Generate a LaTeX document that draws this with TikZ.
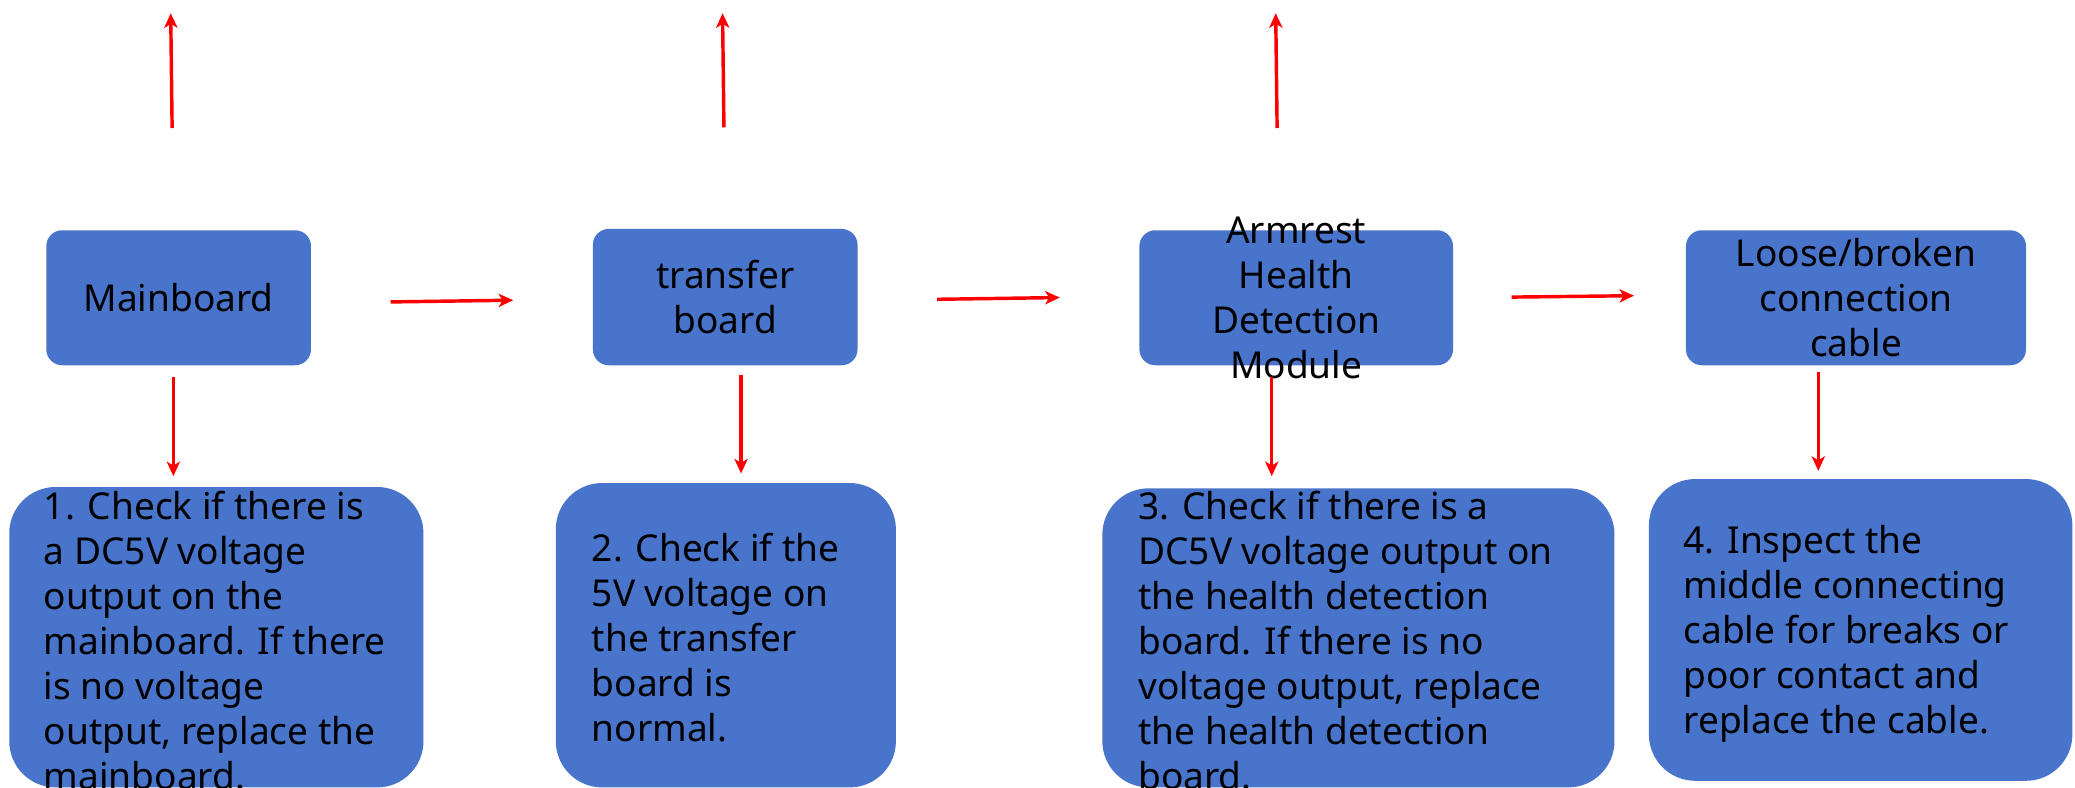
\documentclass[tikz,border=0pt]{standalone}
\usepackage{fontspec}
\setmainfont{Noto Sans}
\usetikzlibrary{arrows.meta}
\definecolor{cardblue}{RGB}{72,116,203}
\begin{document}
\begin{tikzpicture}[x=1pt,y=1pt,
  card/.style={fill=cardblue, draw=none, rounded corners=12pt, inner sep=0pt},
  note/.style={fill=cardblue, draw=none, rounded corners=35pt, inner sep=0pt},
  boxtext/.style={font=\fontsize{28}{34}\selectfont, text=black, inner sep=0pt},
  arr/.style={draw=red, line width=2.6pt, -{Stealth[length=11pt,width=10pt,inset=3pt]}}
]
\useasboundingbox (0,0) rectangle (1568,-595);
\fill[white] (0,0) rectangle (1568,-595);

% component boxes
\node[card, minimum width=200pt, minimum height=102pt] (m) at (135,-225) {};
\node[card, minimum width=200pt, minimum height=103pt] (t) at (548,-224.5) {};
\node[card, minimum width=237pt, minimum height=102pt] (a) at (979.5,-225) {};
\node[card, minimum width=257pt, minimum height=102pt] (l) at (1402.5,-225) {};

\node[boxtext, align=center] (mt) at (m) {Mainboard};
\node[boxtext, align=center] (tt) at (t) {transfer\\board};
\node[boxtext, align=center] (at) at (a) {Armrest\\Health\\Detection\\Module};
\node[boxtext, align=center] (lt) at (l) {Loose/broken\\connection\\cable};

% check steps
\node[note, minimum width=313pt, minimum height=227pt] (b1) at (163.5,-481.5) {};
\node[note, minimum width=257pt, minimum height=230pt] (b2) at (548.5,-480) {};
\node[note, minimum width=387pt, minimum height=226pt] (b3) at (1026.5,-482) {};
\node[note, minimum width=320pt, minimum height=228pt] (b4) at (1406,-476) {};

\node[boxtext, align=left, anchor=west] (s1) at (33,-484) {1. Check if there is\\a DC5V voltage\\output on the\\mainboard. If there\\is no voltage\\output, replace the\\mainboard.};
\node[boxtext, align=left, anchor=west] (s2) at (447,-482) {2. Check if the\\5V voltage on\\the transfer\\board is\\normal.};
\node[boxtext, align=left, anchor=west] (s3) at (860,-484) {3. Check if there is a\\DC5V voltage output on\\the health detection\\board. If there is no\\voltage output, replace\\the health detection\\board.};
\node[boxtext, align=left, anchor=west] (s4) at (1272,-479) {4. Inspect the\\middle connecting\\cable for breaks or\\poor contact and\\replace the cable.};

% free ends of the upward arrows
\coordinate (u1) at (129,-10);
\coordinate (u2) at (546,-10);
\coordinate (u3) at (964,-10);

% upward arrows
\draw[arr, shorten <=77pt] ([xshift=-4pt]m.north) -- (u1);
\draw[arr, shorten <=76.5pt] (t.north) -- (u2);
\draw[arr, shorten <=77pt] ([xshift=-13.5pt]a.north) -- (u3);

% arrows along the chain
\draw[arr, shorten <=60pt, shorten >=60pt] ([yshift=-4pt]m.east) -- ([yshift=-1.5pt]t.west);
\draw[arr, shorten <=60pt, shorten >=60pt] ([yshift=-2.5pt]t.east) -- ([yshift=1pt]a.west);
\draw[arr, shorten <=44pt, shorten >=39pt] (a.east) -- ([yshift=2pt]l.west);

% arrows down to the check steps
\draw[arr, shorten <=9pt, shorten >=8pt] ([xshift=-4pt]m.south) -- ([xshift=-4pt]m.south |- b1.north);
\draw[arr, shorten <=7pt, shorten >=7pt] ([xshift=12pt]t.south) -- ([xshift=12pt]t.south |- b2.north);
\draw[arr, shorten <=9pt, shorten >=9pt] ([xshift=-18.5pt]a.south) -- ([xshift=-18.5pt]a.south |- b3.north);
\draw[arr, shorten <=5pt, shorten >=6pt] ([xshift=-28.5pt]l.south) -- ([xshift=-28.5pt]l.south |- b4.north);
\end{tikzpicture}
\end{document}
